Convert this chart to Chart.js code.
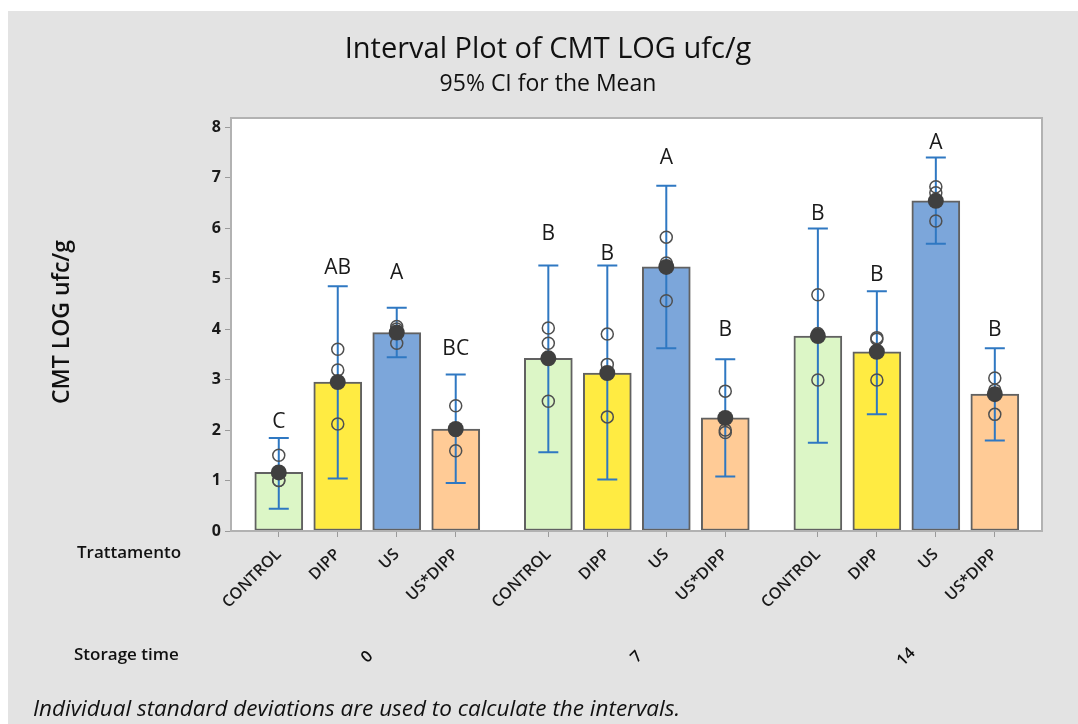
<!DOCTYPE html>
<html>
<head>
<meta charset="utf-8">
<script src="https://cdn.jsdelivr.net/npm/chart.js@4.4.1/dist/chart.umd.min.js"></script>
<style>
    html, body { margin: 0; padding: 0; background: #fff; }
    #chart { display: block; }
</style>
</head>
<body>
<canvas id="chart" width="1078" height="724"></canvas>
<script>
// data
const storageTimes = ['0', '7', '14'];
const treatments = ['CONTROL', 'DIPP', 'US', 'US*DIPP'];
const means = [1.16, 2.95, 3.93, 2.02, 3.42, 3.13, 5.23, 2.24, 3.86, 3.55, 6.54, 2.71];
const ciLow = [0.44, 1.04, 3.44, 0.95, 1.56, 1.02, 3.62, 1.08, 1.75, 2.31, 5.69, 1.79];
const ciHigh = [1.84, 4.85, 4.42, 3.10, 5.26, 5.26, 6.84, 3.40, 5.99, 4.75, 7.40, 3.62];
const observations = [
    [1.50, 1.00, 1.00], [3.60, 3.19, 2.12], [4.05, 4.00, 3.72], [2.48, 1.99, 1.59],
    [4.02, 3.72, 2.57], [3.90, 3.30, 2.26], [5.82, 5.31, 4.56], [2.77, 2.00, 1.95],
    [4.68, 3.91, 2.99], [3.83, 3.80, 2.99], [6.82, 6.70, 6.14], [3.03, 2.79, 2.31]
];
const letters = ['C', 'AB', 'A', 'BC', 'B', 'B', 'A', 'B', 'B', 'B', 'A', 'B'];
const letterY = [2.15, 5.20, 5.10, 3.60, 5.88, 5.48, 7.38, 3.99, 6.27, 5.08, 7.68, 3.99];
const yTicks = [0, 1, 2, 3, 4, 5, 6, 7, 8];

const treatColors = ['#DCF6C6', '#FFEB42', '#7CA6DA', '#FFCB96'];
const FONT = "'Open Sans', 'Noto Sans', sans-serif";
const groupGap = 0.57;

function xPos(i) {
    return Math.floor(i / treatments.length) * (treatments.length + groupGap) + i % treatments.length;
}

const minitabLook = {
    id: 'minitabLook',
    beforeDraw(chart) {
        const {ctx, chartArea: a} = chart;
        ctx.save();
        ctx.fillStyle = '#fff';
        ctx.fillRect(0, 0, chart.width, chart.height);
        ctx.fillStyle = '#E3E3E3';
        ctx.fillRect(8, 11, chart.width - 8, chart.height - 11);
        ctx.fillStyle = '#fff';
        ctx.fillRect(a.left, a.top, a.right - a.left, a.bottom - a.top);
        ctx.restore();
    },
    afterDatasetDraw(chart, args) {
        if (args.meta.type !== 'bar') return;
        const {ctx, scales: {x, y}} = chart;
        ctx.save();
        ctx.strokeStyle = '#2F78C2';
        ctx.lineWidth = 2;
        means.forEach((m, i) => {
            const px = x.getPixelForValue(xPos(i));
            const top = y.getPixelForValue(ciHigh[i]);
            const bot = y.getPixelForValue(ciLow[i]);
            ctx.beginPath();
            ctx.moveTo(px, top); ctx.lineTo(px, bot);
            ctx.moveTo(px - 10, top); ctx.lineTo(px + 10, top);
            ctx.moveTo(px - 10, bot); ctx.lineTo(px + 10, bot);
            ctx.stroke();
        });
        ctx.restore();
    },
    afterDraw(chart) {
        const {ctx, chartArea: a, scales: {x, y}} = chart;
        ctx.save();
        // frame
        ctx.strokeStyle = '#B2B2B2';
        ctx.lineWidth = 2;
        ctx.strokeRect(a.left, a.top, a.right - a.left, a.bottom - a.top);

        // grouping letters
        ctx.fillStyle = '#1a1a1a';
        ctx.font = '21px ' + FONT;
        ctx.textAlign = 'center';
        ctx.textBaseline = 'middle';
        letters.forEach((t, i) => {
            ctx.fillText(t, x.getPixelForValue(xPos(i)), y.getPixelForValue(letterY[i]));
        });

        // titles
        ctx.fillStyle = '#111';
        ctx.font = '29px ' + FONT;
        ctx.fillText('Interval Plot of CMT LOG ufc/g', 548, 50);
        ctx.font = '23px ' + FONT;
        ctx.fillText('95% CI for the Mean', 548, 84);

        // y axis title
        ctx.save();
        ctx.translate(62, 322);
        ctx.rotate(-Math.PI / 2);
        ctx.font = '600 23px ' + FONT;
        ctx.fillText('CMT LOG ufc/g', 0, 0);
        ctx.restore();

        // axis row labels
        ctx.font = '600 17px ' + FONT;
        ctx.textAlign = 'left';
        ctx.fillText('Trattamento', 77, 553);
        ctx.fillText('Storage time', 74, 655);

        // storage time values
        ctx.textAlign = 'center';
        ctx.font = '600 16px ' + FONT;
        storageTimes.forEach((s, g) => {
            const first = xPos(g * treatments.length);
            const last = xPos(g * treatments.length + treatments.length - 1);
            ctx.save();
            ctx.translate(x.getPixelForValue((first + last) / 2), 657);
            ctx.rotate(-Math.PI / 4);
            ctx.fillText(s, 0, 0);
            ctx.restore();
        });

        // footnote
        ctx.textAlign = 'left';
        ctx.font = 'italic 22.5px ' + FONT;
        ctx.fillText('Individual standard deviations are used to calculate the intervals.', 33, 710);
        ctx.restore();
    }
};

new Chart(document.getElementById('chart'), {
    type: 'bar',
    data: {
        datasets: [
            {
                type: 'bar',
                data: means.map((m, i) => ({x: xPos(i), y: m})),
                backgroundColor: means.map((m, i) => treatColors[i % treatColors.length]),
                borderColor: '#616161',
                borderWidth: 2,
                borderSkipped: false,
                barThickness: 48,
                order: 3
            },
            {
                type: 'scatter',
                data: observations.flatMap((obs, i) => obs.map(v => ({x: xPos(i), y: v}))),
                pointRadius: 6,
                pointBorderWidth: 1.5,
                borderColor: '#4F4F4F',
                backgroundColor: 'rgba(0,0,0,0)',
                order: 2
            },
            {
                type: 'scatter',
                data: means.map((m, i) => ({x: xPos(i), y: m})),
                pointRadius: 8,
                pointBorderWidth: 0,
                backgroundColor: '#3F3F3F',
                borderColor: '#3F3F3F',
                order: 1
            }
        ]
    },
    options: {
        responsive: false,
        animation: false,
        layout: {padding: {left: 0, top: 118, right: 36, bottom: 0}},
        plugins: {
            legend: {display: false},
            tooltip: {enabled: false}
        },
        scales: {
            x: {
                type: 'linear',
                offset: false,
                min: -0.81,
                max: xPos(means.length - 1) + 0.8,
                afterBuildTicks: axis => { axis.ticks = means.map((m, i) => ({value: xPos(i)})); },
                afterFit: axis => { axis.height = 193; },
                grid: {drawOnChartArea: false, offset: false, tickLength: 6, color: '#9A9A9A'},
                border: {display: false},
                ticks: {
                    autoSkip: false,
                    minRotation: 45,
                    maxRotation: 45,
                    padding: 8,
                    color: '#1a1a1a',
                    font: {family: FONT, size: 16, weight: '600'},
                    callback: (v, i) => treatments[i % treatments.length]
                }
            },
            y: {
                min: 0,
                max: 8.18,
                afterBuildTicks: axis => { axis.ticks = yTicks.map(v => ({value: v})); },
                afterFit: axis => { axis.width = 231; },
                grid: {drawOnChartArea: false, tickLength: 6, color: '#9A9A9A'},
                border: {display: false},
                ticks: {
                    padding: 4,
                    color: '#1a1a1a',
                    font: {family: FONT, size: 16, weight: 'bold'}
                }
            }
        }
    },
    plugins: [minitabLook]
});
</script>
</body>
</html>
